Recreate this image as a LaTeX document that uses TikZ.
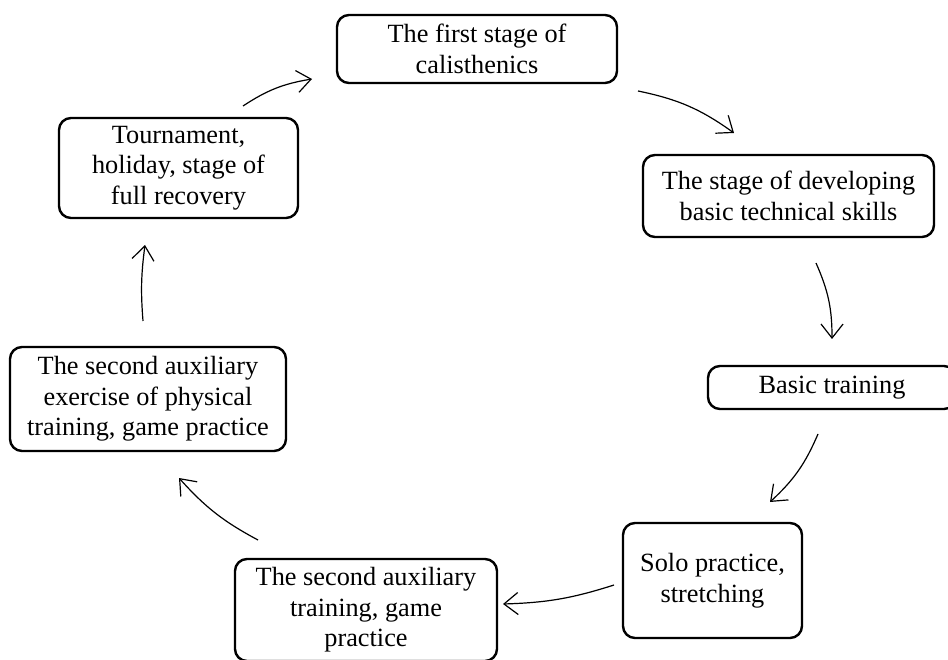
\documentclass[tikz,border=0pt]{standalone}
\usepackage{fontspec}
\setmainfont{Liberation Serif}
\usetikzlibrary{arrows.meta}
\begin{document}
\begin{tikzpicture}[x=1pt,y=-1pt,
  box/.style={draw, line width=2.4pt, rounded corners=12pt, align=center, inner sep=0pt,
    font=\fontsize{26.3}{30.5}\selectfont},
  flow/.style={line width=1.2pt, -{Straight Barb[length=14pt,width=22pt]}}]
\useasboundingbox (0,0) rectangle (948,660);
\clip (0,0) rectangle (948,660);
\node[box, minimum width=280pt, minimum height=68pt] (n1) at (477,49) {The first stage of\\calisthenics};
\node[box, minimum width=291pt, minimum height=82pt] (n2) at (788.5,196) {The stage of developing\\basic technical skills};
\node[box, minimum width=248pt, minimum height=43pt] (n3) at (832,387.5) {Basic training};
\node[box, minimum width=179pt, minimum height=115pt] (n4) at (712.5,580.5) {Solo practice,\\stretching};
\node[box, minimum width=262pt, minimum height=102pt] (n5) at (366,610) {The second auxiliary\\training, game\\practice};
\node[box, minimum width=276pt, minimum height=104pt] (n6) at (148,399) {The second auxiliary\\exercise of physical\\training, game practice};
\node[box, minimum width=239pt, minimum height=100pt] (n7) at (178.5,168) {Tournament,\\holiday, stage of\\full recovery};
\coordinate (a1s) at (243,106); \coordinate (a1e) at (312,79);
\coordinate (a2s) at (638,91);  \coordinate (a2e) at (734,133);
\coordinate (a3s) at (816,263); \coordinate (a3e) at (832,339);
\coordinate (a4s) at (818,434); \coordinate (a4e) at (770,502);
\coordinate (a5s) at (614,585); \coordinate (a5e) at (503,604);
\coordinate (a6s) at (258,540); \coordinate (a6e) at (179,478);
\coordinate (a7s) at (143,321); \coordinate (a7e) at (145,245);
\draw[flow] (a1s) to[bend left=12] (a1e);
\draw[flow] (a2s) to[bend left=12] (a2e);
\draw[flow] (a3s) to[bend left=12] (a3e);
\draw[flow] (a4s) to[bend left=12] (a4e);
\draw[flow] (a5s) to[bend left=8] (a5e);
\draw[flow] (a6s) to[bend left=10] (a6e);
\draw[flow] (a7s) to[bend left=6] (a7e);
\end{tikzpicture}
\end{document}
